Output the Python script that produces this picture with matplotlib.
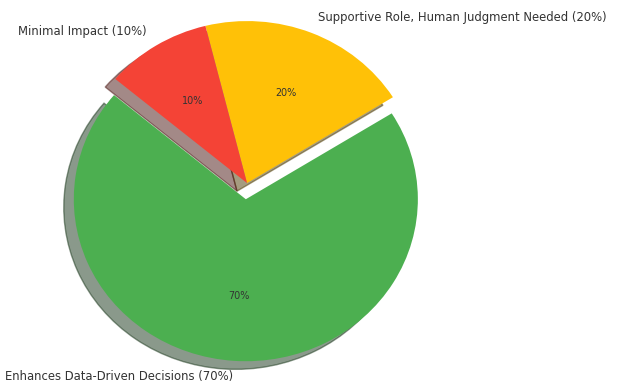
import matplotlib
matplotlib.use("Agg")
import matplotlib.pyplot as plt

labels = ["Enhances Data-Driven Decisions (70%)",
          "Supportive Role, Human Judgment Needed (20%)",
          "Minimal Impact (10%)"]
sizes = [70, 20, 10]
colors = ["#4CAF50", "#FFC107", "#F44336"]
explode = (0.1, 0, 0)

fig = plt.figure(figsize=(6.26, 3.88), dpi=100)
ax = fig.add_axes([0, 0, 1, 1])

wedges, texts, autotexts = ax.pie(
    sizes, labels=labels, colors=colors, explode=explode,
    autopct="%1.0f%%", startangle=140,
    shadow={"ox": -0.042, "oy": -0.036},
    textprops={"fontsize": 8.4, "color": "#333333"})
for t in autotexts:
    t.set_fontsize(6.9)

# pie forces a round, centred axes; stretch it back out
ax.set_aspect("auto")
ax.set_xlim(-1.436, 2.203)
ax.set_ylim(-1.265, 1.130)
ax.axis("off")

fig.savefig("out.png", dpi=100)
